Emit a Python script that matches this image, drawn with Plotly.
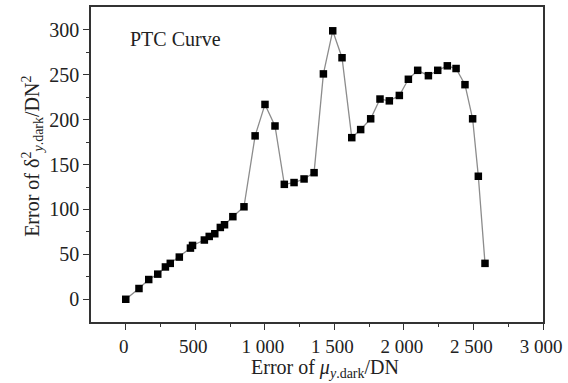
import plotly.graph_objects as go

# Data
mu_dark = [0, 95, 165, 230, 285, 320, 385, 465, 480, 565, 600, 640, 680, 710, 770, 850,
           930, 1001, 1073, 1140, 1210, 1282, 1354, 1421, 1488, 1555, 1625, 1689,
           1761, 1828, 1895, 1967, 2032, 2099, 2176, 2243, 2312, 2375, 2439, 2494, 2535, 2583]
var_dark = [0, 12, 22, 28, 36, 40, 47, 57, 60, 66, 70, 73, 80, 83, 92, 103,
            182, 217, 193, 128, 130, 134, 141, 251, 299, 269, 180, 189,
            201, 223, 221, 227, 245, 255, 249, 255, 260, 257, 239, 201, 137, 40]

x_tickvals = [0, 500, 1000, 1500, 2000, 2500, 3000]
x_ticktext = ["0", "500", "1 000", "1 500", "2 000", "2 500", "3 000"]
y_tickvals = [0, 50, 100, 150, 200, 250, 300]

FONT = "Liberation Serif, Times New Roman, serif"
AX = "#333333"

fig = go.Figure()
fig.add_trace(go.Scatter(
    x=mu_dark, y=var_dark, mode="lines+markers",
    line=dict(color="#8c8c8c", width=1.3),
    marker=dict(symbol="square", size=7.5, color="black"),
    showlegend=False,
))

axis_common = dict(
    showline=True, linecolor=AX, linewidth=1.5, mirror=True,
    ticks="outside", ticklen=6, tickwidth=1.2, tickcolor=AX,
    showgrid=False, zeroline=False, automargin=False,
    ticklabeloverflow="allow",
)

fig.update_xaxes(range=[-250, 3000], tickvals=x_tickvals, ticktext=x_ticktext,
                 tickfont=dict(family=FONT, size=19, color="#222"),
                 ticklabelshift=-2,
                 minor=dict(tickvals=[250, 750, 1250, 1750, 2250, 2750], ticklen=3,
                            ticks="outside", tickcolor=AX, tickwidth=1.2),
                 **axis_common)
fig.update_yaxes(range=[-25.3, 325.5], tickvals=y_tickvals,
                 tickfont=dict(family=FONT, size=20, color="#222"),
                 minor=dict(tickvals=[25, 75, 125, 175, 225, 275], ticklen=3,
                            ticks="outside", tickcolor=AX, tickwidth=1.2),
                 **axis_common)

fig.add_annotation(text="PTC Curve", xref="paper", yref="paper", x=0.186, y=0.898,
                   xanchor="center", yanchor="middle", showarrow=False,
                   font=dict(family=FONT, size=20, color="#222"))
fig.add_annotation(text="Error of δ<sup>2</sup><sub><i>y</i>.dark</sub>/DN<sup>2</sup>",
                   xref="paper", yref="paper", x=-0.13, y=0.525, textangle=-90,
                   xanchor="center", yanchor="middle", showarrow=False,
                   font=dict(family=FONT, size=20, color="#222"))
fig.add_annotation(text="Error of <i>μ</i><sub><i>y</i>.dark</sub>/DN",
                   xref="paper", yref="paper", x=0.518, y=-0.194,
                   xanchor="center", yanchor="bottom", showarrow=False,
                   font=dict(family=FONT, size=20, color="#222"))

fig.update_layout(
    width=568, height=383,
    margin=dict(l=91, r=25, t=7, b=61),
    paper_bgcolor="white", plot_bgcolor="white",
)

# Remove the page's default 8px body margin so the figure fills the window exactly
fig.write_html("out.html", config={"displayModeBar": False},
               post_script="document.body.style.margin='0';document.body.style.overflow='hidden';")
